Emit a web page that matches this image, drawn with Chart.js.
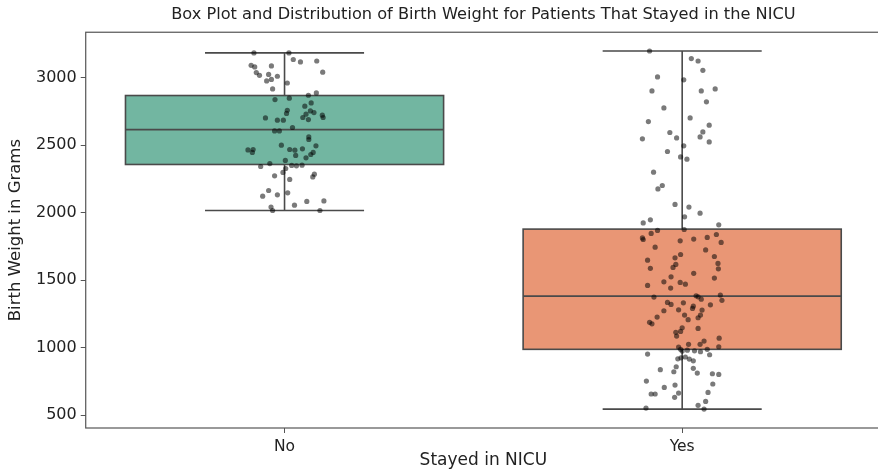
<!DOCTYPE html>
<html>
<head>
<meta charset="utf-8">
<script src="https://cdn.jsdelivr.net/npm/chart.js@4.4.1/dist/chart.umd.min.js"></script>
<style>
  html, body { margin: 0; padding: 0; background: #fff; overflow: hidden; }
</style>
</head>
<body>
<canvas id="chart" width="885" height="471"></canvas>
<script>
const categories = ['No', 'Yes'];
const yTicks = [500, 1000, 1500, 2000, 2500, 3000];
const boxColors = ['#72b6a1', '#e99675'];

// low whisker, Q1, median, Q3, high whisker
const noStats = [2016, 2357, 2615, 2868, 3184];
const yesStats = [544, 987, 1381, 1878, 3198];

const noWeights = [3184, 3184, 3135, 3117, 3124, 3092, 3080, 3087, 3038, 3018,
  3024, 3011, 3041, 2976, 2987, 2961, 2917, 2870, 2887, 2838,
  2848, 2813, 2789, 2759, 2735, 2754, 2742, 2730, 2705, 2690,
  2722, 2705, 2702, 2685, 2685, 2631, 2606, 2606, 2561, 2542,
  2500, 2495, 2465, 2468, 2446, 2468, 2463, 2473, 2424, 2431,
  2446, 2406, 2387, 2364, 2342, 2350, 2347, 2352, 2327, 2298,
  2273, 2285, 2265, 2246, 2164, 2122, 2132, 2147, 2055, 2083,
  2087, 2041, 2016, 2016];
// horizontal strip offsets, in category units
const noJitter = [-0.077, 0.011, 0.022, 0.040, 0.081, -0.084, -0.075, -0.033, -0.071, -0.063,
  -0.040, -0.018, 0.096, -0.045, -0.033, 0.007, -0.030, 0.060, 0.080, -0.024,
  0.012, 0.067, 0.051, 0.007, 0.005, 0.065, 0.074, 0.054, 0.046, 0.060,
  0.095, 0.097, -0.048, -0.018, -0.003, 0.020, -0.025, -0.013, 0.061, 0.061,
  -0.008, 0.079, -0.092, -0.079, -0.081, 0.013, 0.026, 0.045, 0.028, 0.066,
  0.072, 0.054, 0.002, -0.037, -0.060, 0.018, 0.030, 0.044, 0.003, -0.004,
  -0.025, 0.075, 0.071, 0.013, -0.040, -0.055, -0.018, 0.008, 0.025, 0.056,
  0.099, -0.034, -0.030, 0.089];

const yesWeights = [3198, 3142, 3124, 3055, 3006, 2984, 2902, 2902, 2917, 2821,
  2776, 2702, 2675, 2648, 2598, 2594, 2554, 2561, 2547, 2524,
  2495, 2453, 2413, 2396, 2300, 2201, 2176, 2061, 2041, 1969,
  1996, 1947, 1924, 1910, 1875, 1868, 1846, 1838, 1813, 1801,
  1791, 1804, 1816, 1779, 1744, 1724, 1690, 1665, 1675, 1648,
  1616, 1594, 1624, 1587, 1584, 1550, 1524, 1515, 1487, 1483,
  1470, 1461, 1441, 1384, 1376, 1389, 1374, 1359, 1350, 1335,
  1320, 1332, 1317, 1307, 1290, 1273, 1280, 1278, 1241, 1241,
  1221, 1226, 1207, 1187, 1176, 1147, 1120, 1113, 1085, 1142,
  1070, 1048, 1024, 1006, 1024, 1004, 987, 974, 981, 976,
  969, 987, 952, 947, 917, 924, 930, 915, 902, 858,
  836, 821, 846, 811, 806, 801, 752, 722, 705, 730,
  656, 656, 663, 631, 668, 601, 552, 572, 544];
const yesJitter = [-0.082, 0.023, 0.040, 0.052, -0.062, 0.004, -0.076, 0.048, 0.083, 0.061,
  -0.046, 0.020, -0.085, 0.068, 0.052, -0.031, -0.014, 0.045, -0.100, 0.068,
  0.004, -0.037, -0.004, 0.012, -0.072, -0.050, -0.061, -0.018, 0.017, 0.006,
  0.045, -0.080, -0.098, 0.092, 0.005, -0.062, -0.078, 0.086, -0.100, -0.098,
  -0.005, 0.029, 0.063, 0.098, -0.068, 0.059, -0.004, -0.018, 0.081, -0.087,
  -0.016, -0.023, 0.090, -0.080, 0.091, 0.029, -0.028, 0.081, -0.046, -0.005,
  0.008, -0.087, -0.029, 0.035, 0.040, 0.096, -0.071, 0.048, 0.100, -0.037,
  -0.028, 0.003, 0.071, 0.028, 0.026, -0.046, -0.009, 0.050, 0.006, 0.046,
  0.040, -0.063, 0.015, -0.082, -0.076, 0.000, -0.004, -0.016, -0.014, 0.040,
  0.093, 0.055, 0.045, 0.092, 0.016, -0.009, -0.004, 0.000, 0.013, 0.031,
  0.046, 0.063, -0.087, 0.069, -0.011, -0.003, 0.008, 0.018, 0.028, -0.015,
  -0.055, -0.021, 0.028, 0.038, 0.076, 0.092, -0.090, -0.018, -0.045, 0.077,
  -0.078, -0.068, -0.009, -0.019, 0.065, 0.059, -0.091, 0.040, 0.055];

const allStats = [noStats, yesStats];
const strips = [
  noWeights.map((w, i) => ({ x: 0 + noJitter[i], y: w })),
  yesWeights.map((w, i) => ({ x: 1 + yesJitter[i], y: w }))
];

const textColor = '#222';
const lineColor = '#4a4a4a';

// boxes and whiskers under the strip points, frame on top
const boxPlugin = {
  id: 'boxes',
  beforeDatasetsDraw(chart) {
    const { ctx, scales: { x, y } } = chart;
    allStats.forEach((s, i) => {
      const left = x.getPixelForValue(i - 0.4);
      const right = x.getPixelForValue(i + 0.4);
      const capL = x.getPixelForValue(i - 0.2);
      const capR = x.getPixelForValue(i + 0.2);
      const cx = x.getPixelForValue(i);
      const [lo, q1, med, q3, hi] = s.map(v => y.getPixelForValue(v));
      ctx.save();
      ctx.lineWidth = 1.6;
      ctx.strokeStyle = lineColor;
      ctx.fillStyle = boxColors[i];
      ctx.fillRect(left, q3, right - left, q1 - q3);
      ctx.strokeRect(left, q3, right - left, q1 - q3);
      ctx.beginPath();
      ctx.moveTo(left, med); ctx.lineTo(right, med);
      ctx.moveTo(cx, q3); ctx.lineTo(cx, hi);
      ctx.moveTo(cx, q1); ctx.lineTo(cx, lo);
      ctx.moveTo(capL, hi); ctx.lineTo(capR, hi);
      ctx.moveTo(capL, lo); ctx.lineTo(capR, lo);
      ctx.stroke();
      ctx.restore();
    });
  },
  afterDraw(chart) {
    const { ctx, chartArea: a } = chart;
    ctx.save();
    ctx.strokeStyle = '#555';
    ctx.lineWidth = 1.2;
    ctx.strokeRect(a.left, a.top, a.right - a.left, a.bottom - a.top);
    ctx.restore();
  }
};

new Chart(document.getElementById('chart'), {
  type: 'scatter',
  data: {
    datasets: strips.map(pts => ({
      data: pts,
      backgroundColor: 'rgba(0,0,0,0.52)',
      borderWidth: 0,
      pointRadius: 2.6
    }))
  },
  plugins: [boxPlugin],
  options: {
    responsive: false,
    animation: false,
    layout: { padding: { left: 7, right: 0, top: 4, bottom: 2 } },
    plugins: {
      legend: { display: false },
      tooltip: { enabled: false },
      title: {
        display: true,
        fullSize: false,
        text: 'Box Plot and Distribution of Birth Weight for Patients That Stayed in the NICU',
        color: textColor,
        font: { family: 'DejaVu Sans', size: 16.2, weight: 'normal' },
        padding: { top: 1.5, bottom: 7.3 }
      }
    },
    scales: {
      x: {
        type: 'linear',
        min: -0.5,
        max: 1.5,
        afterBuildTicks: axis => { axis.ticks = categories.map((c, i) => ({ value: i })); },
        ticks: {
          callback: v => categories[v],
          color: textColor,
          font: { family: 'DejaVu Sans', size: 15.5, lineHeight: 1 },
          padding: 6.25
        },
        grid: { drawOnChartArea: false, drawTicks: true, tickLength: 5, color: '#555' },
        border: { display: false },
        title: {
          display: true,
          text: 'Stayed in NICU',
          color: textColor,
          font: { family: 'DejaVu Sans', size: 17, lineHeight: 1 },
          padding: { top: -8.5, bottom: -0.5 }
        }
      },
      y: {
        min: 404,
        max: 3337,
        afterBuildTicks: axis => { axis.ticks = yTicks.map(v => ({ value: v })); },
        ticks: {
          callback: v => String(v),
          color: textColor,
          font: { family: 'DejaVu Sans', size: 16, lineHeight: 1 },
          padding: 4
        },
        grid: { drawOnChartArea: false, drawTicks: true, tickLength: 5, color: '#555' },
        border: { display: false },
        title: {
          display: true,
          text: 'Birth Weight in Grams',
          color: textColor,
          font: { family: 'DejaVu Sans', size: 16.5, lineHeight: 1 },
          padding: { top: 0, bottom: 8.5 }
        }
      }
    }
  }
});
</script>
</body>
</html>
